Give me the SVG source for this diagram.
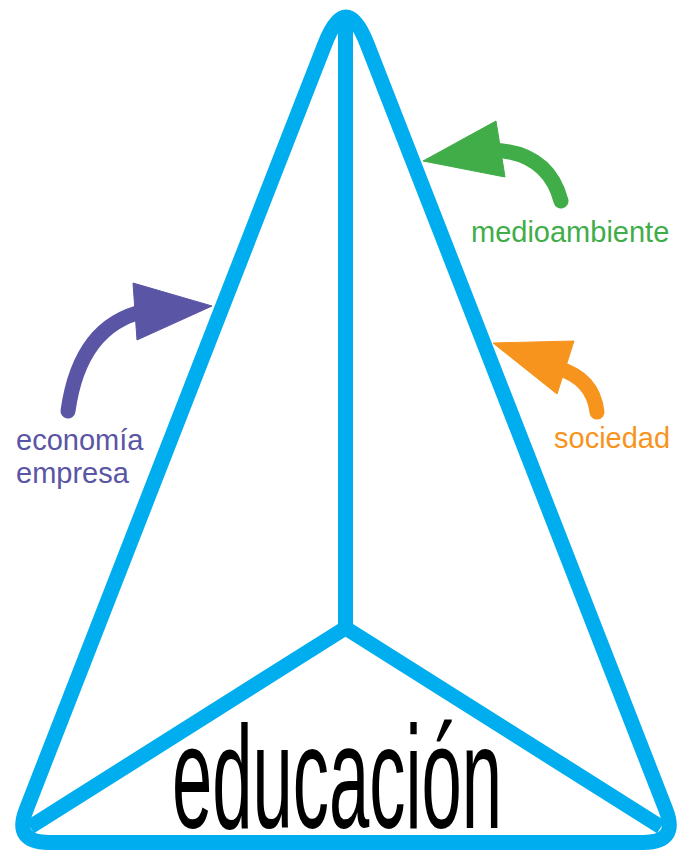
<svg xmlns="http://www.w3.org/2000/svg" width="679" height="851" viewBox="0 0 679 851">
  <style>
    .edge { fill: none; stroke: #00AEEF; stroke-width: 15; stroke-linejoin: round; }
    .shaft { fill: none; stroke-width: 15; stroke-linecap: round; }
    .lbl { font-family: "Liberation Sans", Arial, sans-serif; font-size: 29px; }
    .purple { fill: #5B55A5; stroke: #5B55A5; }
    .green { fill: #41AD49; stroke: #41AD49; }
    .orange { fill: #F7941D; stroke: #F7941D; }
  </style>
  <rect width="679" height="851" fill="#ffffff"/>
  <g id="pyramid">
    <path class="edge" d="M48.4,842.5 L643.6,842.5 Q678.6,842.5 665.9,809.9 L367.1,44 Q346,-10 324.9,44 L26.1,809.9 Q13.4,842.5 48.4,842.5 Z"/>
    <path class="edge" d="M345.5,20 L345.5,628"/>
    <path class="edge" d="M30,827 L345.5,628 L661,827"/>
  </g>
  <g id="connectors">
    <path class="shaft purple" style="fill:none" d="M68,411 Q80,325 145,311"/>
    <polygon class="purple" stroke="none" points="133,283 137,340 212,306"/>
    <path class="shaft green" style="fill:none" d="M561,201 Q548,152 492,150"/>
    <polygon class="green" stroke="none" points="423,161 496,121 505,177"/>
    <path class="shaft orange" style="fill:none" d="M597,412 Q593,378 557,368"/>
    <polygon class="orange" stroke="none" points="493,343 574,341 557,394"/>
  </g>
  <g id="economia">
    <text class="lbl" fill="#5B55A5" x="16" y="450">economía</text>
    <text class="lbl" fill="#5B55A5" x="16" y="483">empresa</text>
  </g>
  <g id="medioambiente">
    <text class="lbl" fill="#41AD49" x="471" y="242">medioambiente</text>
  </g>
  <g id="sociedad">
    <text class="lbl" fill="#F7941D" x="554" y="448">sociedad</text>
  </g>
  <g id="educacion">
    <text x="172" y="828" font-family="Liberation Sans, Arial, sans-serif" font-size="146" fill="#000000" textLength="330" lengthAdjust="spacingAndGlyphs">educación</text>
  </g>
</svg>
